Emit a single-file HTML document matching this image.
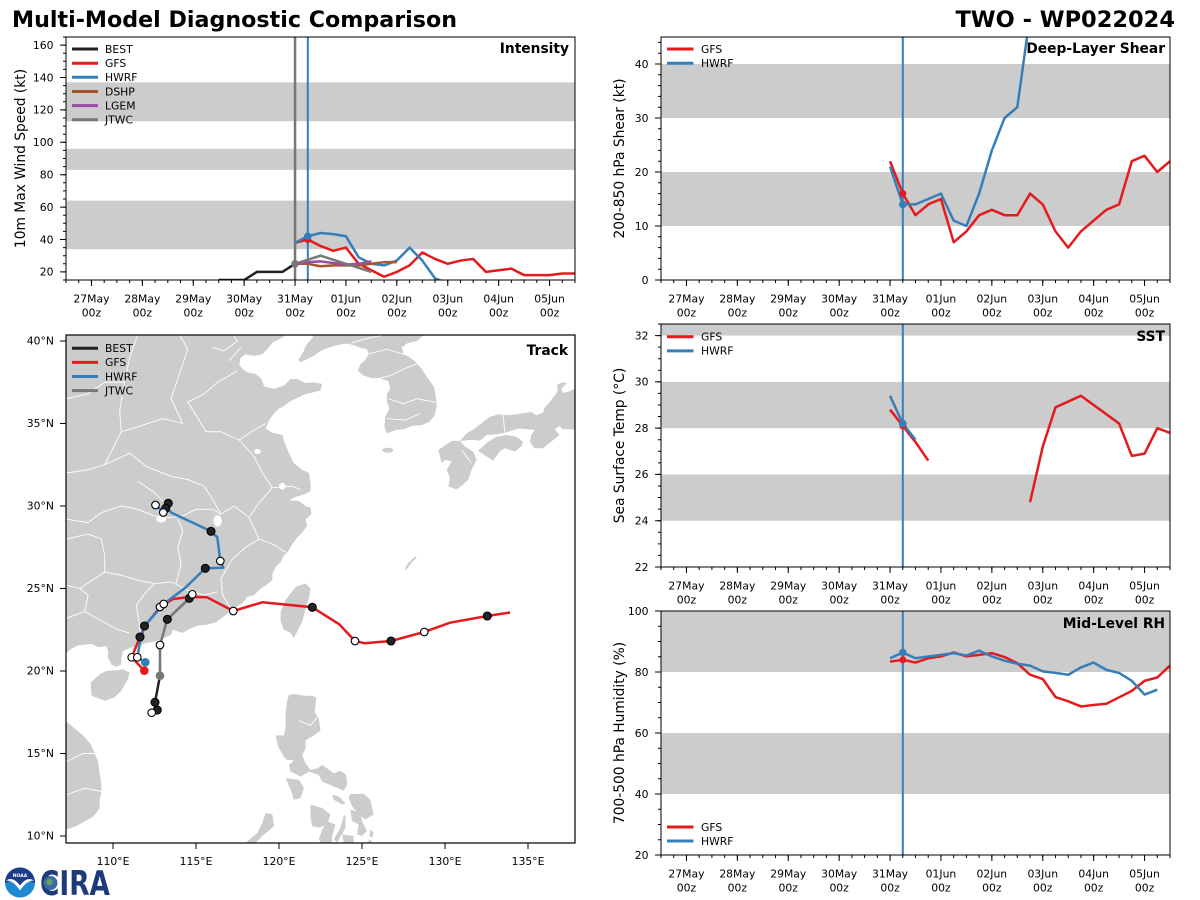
<!DOCTYPE html>
<html><head><meta charset="utf-8"><style>
html,body{margin:0;padding:0;background:#fff;}
svg{display:block;}
text{font-family:"DejaVu Sans","Liberation Sans",sans-serif;}
.tk{font-size:10.8px;fill:#000;}
.lg{font-size:10.8px;fill:#000;}
.yl{font-size:13.8px;fill:#000;}
.pt{font-size:13.8px;font-weight:bold;fill:#000;}
.ns{vector-effect:non-scaling-stroke;fill:none;stroke-linejoin:round;stroke-linecap:butt;}
</style></head><body>
<svg width="1200" height="900" viewBox="0 0 1200 900" xmlns="http://www.w3.org/2000/svg">
<rect width="1200" height="900" fill="#fff"/>
<defs>
<clipPath id="cI"><rect x="66" y="37" width="509" height="243"/></clipPath>
<clipPath id="cS"><rect x="661" y="37" width="509" height="243"/></clipPath>
<clipPath id="cT"><rect x="661" y="324" width="509" height="243"/></clipPath>
<clipPath id="cR"><rect x="661" y="611" width="509" height="244"/></clipPath>
<clipPath id="cM"><rect x="66" y="335" width="509" height="508"/></clipPath>
</defs>

<!-- Titles -->
<text x="12" y="27" font-size="22.5" font-weight="bold" textLength="445" lengthAdjust="spacingAndGlyphs">Multi-Model Diagnostic Comparison</text>
<text x="1175" y="27" font-size="22.5" font-weight="bold" text-anchor="end">TWO - WP022024</text>

<!-- ================= INTENSITY ================= -->
<g clip-path="url(#cI)">
 <g transform="matrix(50.9 0 0 -1.62 91.45 304.3)">
  <rect x="-0.5" y="34" width="10" height="30" fill="#cccccc"/>
  <rect x="-0.5" y="83" width="10" height="13" fill="#cccccc"/>
  <rect x="-0.5" y="113" width="10" height="24" fill="#cccccc"/>
 </g>
 <line x1="295.05" y1="37" x2="295.05" y2="280" stroke="#777" stroke-width="2.5"/>
 <line x1="307.8" y1="37" x2="307.8" y2="280" stroke="#377eb8" stroke-width="2"/>
 <g transform="matrix(50.9 0 0 -1.62 91.45 304.3)">
  <polyline class="ns" stroke="#222222" stroke-width="2.5" points="2.5,15 3,15 3.25,20 3.75,20 4,25"/>
  <polyline class="ns" stroke="#e41a1c" stroke-width="2.5" points="4,38 4.25,40 4.5,36 4.75,33 5,35 5.25,25 5.5,21 5.75,17 6,20 6.25,24 6.5,32 6.75,28 7,25 7.25,27 7.5,28 7.75,20 8,21 8.25,22 8.5,18 8.75,18 9,18 9.25,19 9.5,19"/>
  <polyline class="ns" stroke="#377eb8" stroke-width="2.5" points="4,38 4.25,42 4.5,44 4.75,43.3 5,42 5.25,29 5.5,25 5.75,24 6,27 6.25,35 6.5,27 6.75,16 7,13 7.25,10"/>
  <polyline class="ns" stroke="#a65628" stroke-width="2.5" points="4,25 4.25,25 4.5,23.5 4.75,24 5,24 5.25,24 5.5,25 5.75,26 6,26"/>
  <polyline class="ns" stroke="#984ea3" stroke-width="2.5" points="4,25 4.25,26 4.5,26.5 4.75,25.5 5,24.5 5.25,25 5.5,26.5"/>
  <polyline class="ns" stroke="#777777" stroke-width="2.5" points="4,25 4.5,30 5,25 5.5,20"/>
 </g>
 <circle cx="307.8" cy="239.5" r="3.5" fill="#e41a1c"/>
 <circle cx="307.8" cy="236.3" r="3.8" fill="#377eb8"/>
 <circle cx="295.05" cy="263.8" r="3.8" fill="#777777"/>
</g>
<rect x="66" y="37" width="509" height="243" fill="none" stroke="#000" stroke-width="1"/>
<g stroke="#000" fill="none">
 <line x1="65.5" y1="281.5" x2="576" y2="281.5" stroke-width="3" stroke-dasharray="1 11.725"/>
 <line x1="90.95" y1="283" x2="576" y2="283" stroke-width="6" stroke-dasharray="1 49.9"/>
 <line x1="64.5" y1="36.5" x2="64.5" y2="281" stroke-width="3" stroke-dasharray="1 7.1"/>
 <line x1="63" y1="44.6" x2="63" y2="281" stroke-width="6" stroke-dasharray="1 31.4"/>
</g>
<g class="tk" text-anchor="end">
 <text x="53.5" y="275.7">20</text><text x="53.5" y="243.3">40</text><text x="53.5" y="210.9">60</text><text x="53.5" y="178.5">80</text>
 <text x="53.5" y="146.1">100</text><text x="53.5" y="113.7">120</text><text x="53.5" y="81.3">140</text><text x="53.5" y="48.9">160</text>
</g>
<g class="tk" text-anchor="middle">
 <text x="91.45" y="302.5">27May</text><text x="142.35" y="302.5">28May</text><text x="193.25" y="302.5">29May</text><text x="244.15" y="302.5">30May</text><text x="295.05" y="302.5">31May</text><text x="345.95" y="302.5">01Jun</text><text x="396.85" y="302.5">02Jun</text><text x="447.75" y="302.5">03Jun</text><text x="498.65" y="302.5">04Jun</text><text x="549.55" y="302.5">05Jun</text>
 <text x="91.45" y="316.5">00z</text><text x="142.35" y="316.5">00z</text><text x="193.25" y="316.5">00z</text><text x="244.15" y="316.5">00z</text><text x="295.05" y="316.5">00z</text><text x="345.95" y="316.5">00z</text><text x="396.85" y="316.5">00z</text><text x="447.75" y="316.5">00z</text><text x="498.65" y="316.5">00z</text><text x="549.55" y="316.5">00z</text>
</g>
<text class="yl" transform="translate(25,158.5) rotate(-90)" text-anchor="middle">10m Max Wind Speed (kt)</text>
<text class="pt" x="569" y="53" text-anchor="end">Intensity</text>
<g stroke-width="3">
 <line x1="72" y1="49" x2="98" y2="49" stroke="#222222"/>
 <line x1="72" y1="63.2" x2="98" y2="63.2" stroke="#e41a1c"/>
 <line x1="72" y1="77.3" x2="98" y2="77.3" stroke="#377eb8"/>
 <line x1="72" y1="91.5" x2="98" y2="91.5" stroke="#a65628"/>
 <line x1="72" y1="105.6" x2="98" y2="105.6" stroke="#984ea3"/>
 <line x1="72" y1="119.8" x2="98" y2="119.8" stroke="#777777"/>
</g>
<g class="lg">
 <text x="105" y="52.8">BEST</text><text x="105" y="67">GFS</text><text x="105" y="81.1">HWRF</text>
 <text x="105" y="95.3">DSHP</text><text x="105" y="109.4">LGEM</text><text x="105" y="123.6">JTWC</text>
</g>

<!-- ================= SHEAR ================= -->
<g clip-path="url(#cS)">
 <g transform="matrix(50.9 0 0 -5.4 686.45 280)">
  <rect x="-0.5" y="10" width="10" height="10" fill="#cccccc"/>
  <rect x="-0.5" y="30" width="10" height="10" fill="#cccccc"/>
 </g>
 <line x1="902.8" y1="37" x2="902.8" y2="280" stroke="#377eb8" stroke-width="2"/>
 <g transform="matrix(50.9 0 0 -5.4 686.45 280)">
  <polyline class="ns" stroke="#e41a1c" stroke-width="2.5" points="4,22 4.25,16 4.5,12 4.75,14 5,15 5.25,7 5.5,9 5.75,12 6,13 6.25,12 6.5,12 6.75,16 7,14 7.25,9 7.5,6 7.75,9 8,11 8.25,13 8.5,14 8.75,22 9,23 9.25,20 9.5,22"/>
  <polyline class="ns" stroke="#377eb8" stroke-width="2.5" points="4,21 4.25,14 4.5,14 4.75,15 5,16 5.25,11 5.5,10 5.75,16 6,24 6.25,30 6.5,32 6.75,49 7,55"/>
 </g>
 <circle cx="902.8" cy="193.6" r="3.5" fill="#e41a1c"/>
 <circle cx="902.8" cy="204.4" r="3.8" fill="#377eb8"/>
</g>
<rect x="661" y="37" width="509" height="243" fill="none" stroke="#000" stroke-width="1"/>
<g stroke="#000" fill="none">
 <line x1="660.5" y1="281.5" x2="1171" y2="281.5" stroke-width="3" stroke-dasharray="1 11.725"/>
 <line x1="685.95" y1="283" x2="1171" y2="283" stroke-width="6" stroke-dasharray="1 49.9"/>
 <line x1="659.5" y1="41.9" x2="659.5" y2="281" stroke-width="3" stroke-dasharray="1 9.8"/>
 <line x1="658" y1="63.5" x2="658" y2="281" stroke-width="6" stroke-dasharray="1 53"/>
</g>
<g class="tk" text-anchor="end">
 <text x="648.5" y="283.8">0</text><text x="648.5" y="229.8">10</text><text x="648.5" y="175.8">20</text><text x="648.5" y="121.8">30</text><text x="648.5" y="67.8">40</text>
</g>
<g class="tk" text-anchor="middle">
 <text x="686.45" y="302.5">27May</text><text x="737.35" y="302.5">28May</text><text x="788.25" y="302.5">29May</text><text x="839.15" y="302.5">30May</text><text x="890.05" y="302.5">31May</text><text x="940.95" y="302.5">01Jun</text><text x="991.85" y="302.5">02Jun</text><text x="1042.75" y="302.5">03Jun</text><text x="1093.65" y="302.5">04Jun</text><text x="1144.55" y="302.5">05Jun</text>
 <text x="686.45" y="316.5">00z</text><text x="737.35" y="316.5">00z</text><text x="788.25" y="316.5">00z</text><text x="839.15" y="316.5">00z</text><text x="890.05" y="316.5">00z</text><text x="940.95" y="316.5">00z</text><text x="991.85" y="316.5">00z</text><text x="1042.75" y="316.5">00z</text><text x="1093.65" y="316.5">00z</text><text x="1144.55" y="316.5">00z</text>
</g>
<text class="yl" transform="translate(624,158.5) rotate(-90)" text-anchor="middle">200-850 hPa Shear (kt)</text>
<text class="pt" x="1165" y="53" text-anchor="end">Deep-Layer Shear</text>
<g stroke-width="3">
 <line x1="667" y1="49" x2="693.5" y2="49" stroke="#e41a1c"/>
 <line x1="667" y1="63.2" x2="693.5" y2="63.2" stroke="#377eb8"/>
</g>
<g class="lg"><text x="701" y="52.8">GFS</text><text x="701" y="67">HWRF</text></g>

<!-- ================= SST ================= -->
<g clip-path="url(#cT)">
 <g transform="matrix(50.9 0 0 -23.14 686.45 1076.1)">
  <rect x="-0.5" y="24" width="10" height="2" fill="#cccccc"/>
  <rect x="-0.5" y="28" width="10" height="2" fill="#cccccc"/>
  <rect x="-0.5" y="32" width="10" height="2" fill="#cccccc"/>
 </g>
 <line x1="902.8" y1="324" x2="902.8" y2="567" stroke="#377eb8" stroke-width="2"/>
 <g transform="matrix(50.9 0 0 -23.14 686.45 1076.1)">
  <polyline class="ns" stroke="#e41a1c" stroke-width="2.5" points="4,28.8 4.25,28.1 4.5,27.4 4.75,26.6"/>
  <polyline class="ns" stroke="#e41a1c" stroke-width="2.5" points="6.75,24.8 7,27.2 7.25,28.9 7.5,29.15 7.75,29.4 8,29 8.25,28.6 8.5,28.2 8.75,26.8 9,26.9 9.25,28 9.5,27.8"/>
  <polyline class="ns" stroke="#377eb8" stroke-width="2.5" points="4,29.4 4.25,28.2 4.5,27.5"/>
 </g>
 <circle cx="902.8" cy="425.9" r="3.5" fill="#e41a1c"/>
 <circle cx="902.8" cy="423.6" r="3.8" fill="#377eb8"/>
</g>
<rect x="661" y="324" width="509" height="243" fill="none" stroke="#000" stroke-width="1"/>
<g stroke="#000" fill="none">
 <line x1="660.5" y1="568.5" x2="1171" y2="568.5" stroke-width="3" stroke-dasharray="1 11.725"/>
 <line x1="685.95" y1="570" x2="1171" y2="570" stroke-width="6" stroke-dasharray="1 49.9"/>
 <line x1="659.5" y1="323.5" x2="659.5" y2="568" stroke-width="3" stroke-dasharray="1 10.57"/>
 <line x1="658" y1="335.07" x2="658" y2="568" stroke-width="6" stroke-dasharray="1 45.28"/>
</g>
<g class="tk" text-anchor="end">
 <text x="648.5" y="570.8">22</text><text x="648.5" y="524.5">24</text><text x="648.5" y="478.2">26</text><text x="648.5" y="432">28</text><text x="648.5" y="385.7">30</text><text x="648.5" y="339.4">32</text>
</g>
<g class="tk" text-anchor="middle">
 <text x="686.45" y="589.5">27May</text><text x="737.35" y="589.5">28May</text><text x="788.25" y="589.5">29May</text><text x="839.15" y="589.5">30May</text><text x="890.05" y="589.5">31May</text><text x="940.95" y="589.5">01Jun</text><text x="991.85" y="589.5">02Jun</text><text x="1042.75" y="589.5">03Jun</text><text x="1093.65" y="589.5">04Jun</text><text x="1144.55" y="589.5">05Jun</text>
 <text x="686.45" y="603.5">00z</text><text x="737.35" y="603.5">00z</text><text x="788.25" y="603.5">00z</text><text x="839.15" y="603.5">00z</text><text x="890.05" y="603.5">00z</text><text x="940.95" y="603.5">00z</text><text x="991.85" y="603.5">00z</text><text x="1042.75" y="603.5">00z</text><text x="1093.65" y="603.5">00z</text><text x="1144.55" y="603.5">00z</text>
</g>
<text class="yl" transform="translate(624,445.5) rotate(-90)" text-anchor="middle">Sea Surface Temp (°C)</text>
<text class="pt" x="1165" y="341" text-anchor="end">SST</text>
<g stroke-width="3">
 <line x1="667" y1="336.7" x2="693.5" y2="336.7" stroke="#e41a1c"/>
 <line x1="667" y1="350.9" x2="693.5" y2="350.9" stroke="#377eb8"/>
</g>
<g class="lg"><text x="701" y="340.5">GFS</text><text x="701" y="354.7">HWRF</text></g>

<!-- ================= RH ================= -->
<g clip-path="url(#cR)">
 <g transform="matrix(50.9 0 0 -3.05 686.45 916)">
  <rect x="-0.5" y="40" width="10" height="20" fill="#cccccc"/>
  <rect x="-0.5" y="80" width="10" height="20" fill="#cccccc"/>
 </g>
 <line x1="902.8" y1="611" x2="902.8" y2="855" stroke="#377eb8" stroke-width="2"/>
 <g transform="matrix(50.9 0 0 -3.05 686.45 916)">
  <polyline class="ns" stroke="#e41a1c" stroke-width="2.5" points="4,83.4 4.25,84 4.5,83.1 4.75,84.5 5,85.1 5.25,86.4 5.5,85.1 5.75,85.6 6,86.2 6.25,84.9 6.5,82.9 6.75,79.1 7,77.7 7.25,71.8 7.5,70.4 7.75,68.7 8,69.2 8.25,69.6 8.5,71.7 8.75,73.8 9,77.1 9.25,78.2 9.5,82.1"/>
  <polyline class="ns" stroke="#377eb8" stroke-width="2.5" points="4,84.5 4.25,86.4 4.5,84.5 4.75,85.1 5,85.6 5.25,86.2 5.5,85.4 5.75,87 6,85.1 6.25,83.7 6.5,82.7 6.75,82.1 7,80.2 7.25,79.7 7.5,79.1 7.75,81.5 8,83.1 8.25,80.7 8.5,79.7 8.75,77.1 9,72.6 9.25,74.2"/>
 </g>
 <circle cx="902.8" cy="659.8" r="3.5" fill="#e41a1c"/>
 <circle cx="902.8" cy="652.5" r="3.8" fill="#377eb8"/>
</g>
<rect x="661" y="611" width="509" height="244" fill="none" stroke="#000" stroke-width="1"/>
<g stroke="#000" fill="none">
 <line x1="660.5" y1="856.5" x2="1171" y2="856.5" stroke-width="3" stroke-dasharray="1 11.725"/>
 <line x1="685.95" y1="858" x2="1171" y2="858" stroke-width="6" stroke-dasharray="1 49.9"/>
 <line x1="659.5" y1="610.5" x2="659.5" y2="856" stroke-width="3" stroke-dasharray="1 14.25"/>
 <line x1="658" y1="610.5" x2="658" y2="856" stroke-width="6" stroke-dasharray="1 60"/>
</g>
<g class="tk" text-anchor="end">
 <text x="648.5" y="858.8">20</text><text x="648.5" y="797.8">40</text><text x="648.5" y="736.8">60</text><text x="648.5" y="675.8">80</text><text x="648.5" y="614.8">100</text>
</g>
<g class="tk" text-anchor="middle">
 <text x="686.45" y="877.5">27May</text><text x="737.35" y="877.5">28May</text><text x="788.25" y="877.5">29May</text><text x="839.15" y="877.5">30May</text><text x="890.05" y="877.5">31May</text><text x="940.95" y="877.5">01Jun</text><text x="991.85" y="877.5">02Jun</text><text x="1042.75" y="877.5">03Jun</text><text x="1093.65" y="877.5">04Jun</text><text x="1144.55" y="877.5">05Jun</text>
 <text x="686.45" y="891.5">00z</text><text x="737.35" y="891.5">00z</text><text x="788.25" y="891.5">00z</text><text x="839.15" y="891.5">00z</text><text x="890.05" y="891.5">00z</text><text x="940.95" y="891.5">00z</text><text x="991.85" y="891.5">00z</text><text x="1042.75" y="891.5">00z</text><text x="1093.65" y="891.5">00z</text><text x="1144.55" y="891.5">00z</text>
</g>
<text class="yl" transform="translate(624,733) rotate(-90)" text-anchor="middle">700-500 hPa Humidity (%)</text>
<text class="pt" x="1165" y="628" text-anchor="end">Mid-Level RH</text>
<g stroke-width="3">
 <line x1="667" y1="827" x2="693.5" y2="827" stroke="#e41a1c"/>
 <line x1="667" y1="841" x2="693.5" y2="841" stroke="#377eb8"/>
</g>
<g class="lg"><text x="701" y="830.8">GFS</text><text x="701" y="844.8">HWRF</text></g>

<!-- ================= TRACK MAP ================= -->
<g clip-path="url(#cM)">
 <rect x="66" y="335" width="509" height="508" fill="#fff"/>
 <g transform="matrix(16.6 0 0 -16.5 -1713 1001)" fill="#cccccc" stroke="none">
  <polygon points="100,42 121,42 121,40.9 120.5,40.4 120,40.1 119.6,39.9 119.3,39.5 119,39.2 118.5,39.1 118,39.2 117.7,39 117.6,38.6 117.8,38.3 118.1,38.1 118.6,38 118.95,37.7 119.1,37.25 119.7,37.1 120.3,37.3 120.7,37.7 121.1,37.7 121.6,37.45 122.1,37.5 122.6,37.4 122.5,37 122.1,36.9 121.5,36.75 121,36.5 120.6,36.3 120.3,36.05 120,35.9 119.7,35.6 119.4,35.2 119.2,34.7 119.6,34.45 120.2,34.3 120.35,33.8 120.6,33.2 120.9,32.6 121.4,32.2 121.8,32 121.85,31.7 121.9,31.3 121.9,30.9 121.5,30.7 121,30.55 120.6,30.35 121.2,30.3 121.6,30 121.9,29.9 121.95,29.5 121.6,29.2 121.7,28.8 121.4,28.4 121.1,28.1 120.8,27.7 120.6,27.3 120.3,27 120.1,26.6 119.8,26.3 119.6,25.9 119.6,25.5 119.2,25.2 118.8,24.9 118.5,24.6 118.1,24.5 117.8,24.1 117.3,23.8 116.9,23.5 116.6,23.25 116.2,22.95 115.6,22.8 115.1,22.75 114.6,22.55 114.2,22.3 113.9,22.4 113.6,22.5 113.5,22.2 113.1,22 112.6,21.8 112,21.7 111.5,21.5 111,21.4 110.6,21.2 110.5,20.8 110.5,20.4 110.2,20.25 109.9,20.4 109.7,20.8 109.7,21.2 109.6,21.5 109.1,21.45 108.7,21.65 108.3,21.6 107.9,21.55 107.5,21.35 107.1,21 106.7,20.7 106.3,20.2 105.9,19.7 105.7,19 106.1,18.4 106.5,17.8 107.1,17 107.6,16.6 108.2,16.1 108.7,15.5 108.9,15 109.1,14.5 109.2,13.8 109.3,13.2 109.3,12.7 109.2,12.2 109.2,11.7 109,11.4 108.7,11.1 108.3,10.9 107.8,10.6 107.2,10.4 106.8,10.3 106.6,9.9 106.3,9.5 106.2,9 100,9"/>
  <polygon points="121.8,42 122.2,40.5 122,40.2 121.6,39.7 121.5,39.4 121.3,39.05 121.15,38.85 121.3,38.72 121.7,38.9 122.1,39.1 122.5,39.4 123,39.6 123.5,39.75 124.1,39.85 124.5,39.75 124.9,39.6 125.3,39.5 125.4,39.2 125.2,38.85 124.9,38.6 124.75,38.2 125.1,37.9 125.6,37.75 126.1,37.75 126.6,37.55 126.7,37.1 126.5,36.8 126.5,36.3 126.65,35.9 126.4,35.4 126.35,34.8 126.5,34.4 127,34.6 127.5,34.65 128,34.85 128.6,34.9 129.05,35.1 129.35,35.45 129.5,36 129.45,36.6 129.35,37.2 129,37.7 128.6,38.3 128.3,38.65 127.9,39 127.5,39.2 127.4,39.6 127.7,39.85 128.3,40 128.9,40.5 129.7,40.9 130,42"/>
  <ellipse cx="126.55" cy="33.38" rx="0.33" ry="0.15"/>
  <polygon points="129.6,33.4 129.9,33.6 130.4,33.95 130.9,33.95 131.2,33.6 131.7,33.3 131.9,32.8 131.6,32.2 131.4,31.6 131.1,31.3 130.7,31 130.2,31.2 130.3,31.7 130.1,32.2 130.4,32.7 130,32.8 129.8,32.6 129.7,33"/>
  <polygon points="132,33.35 132.6,33.9 133.1,34.2 133.7,34.3 134.3,34.2 134.7,33.9 134.6,33.6 134.2,33.3 133.6,33.5 133.3,33.3 132.9,32.75 132.5,33 132.2,33.2"/>
  <polygon points="130.9,33.95 131.3,34.4 131.8,34.7 132.3,35.1 132.7,35.4 133.2,35.55 133.9,35.5 134.5,35.6 135.2,35.7 135.5,35.5 135.9,35.65 136,35.95 136.3,36.3 136.7,36.8 136.8,37.1 136.75,37.35 137.1,37.5 137.35,37.45 137,37.1 137.1,36.85 137.5,36.95 138,37.2 139,37.5 139,34 138,34.6 137.5,34.65 137.1,34.65 136.9,34.85 136.6,34.65 136.9,34.3 136.4,33.9 135.9,33.5 135.4,33.5 135.1,33.9 135.2,34.3 135.4,34.6 135,34.65 134.4,34.7 133.8,34.5 133.2,34.35 132.5,34.3 132.1,33.95 131.8,34 131.4,34 131,33.95"/>
  <polygon points="127.65,26.1 128,26.6 128.3,26.85 128.2,26.95 127.8,26.55 127.6,26.25"/>
  <polygon points="121,25.1 121.6,25.3 121.9,25 121.8,24.4 121.6,23.8 121.4,23 120.9,22 120.7,22.3 120.3,22.5 120.1,23 120.1,23.6 120.4,24.3 120.7,24.7"/>
  <polygon points="108.65,19.3 108.7,18.5 109.5,18.2 110.1,18.4 110.5,18.8 110.9,19.5 111,19.9 110.6,20.1 110.2,20.05 109.6,20 109.2,19.8"/>
  <polygon points="120.6,18.55 121,18.6 121.5,18.5 122,18.5 122.25,18.4 122.15,17.5 122.4,17.1 122.5,16.4 122.1,16.1 121.6,15.8 121.6,15.3 121.4,14.9 121.6,14.4 121.9,14 122.3,14.1 122.6,14.3 122.9,14.1 123.3,13.8 123.7,13.95 124.05,13.7 124.1,13.1 123.9,12.75 123.3,13 122.6,13.3 122.4,13.7 121.8,13.9 121.3,13.6 120.7,13.9 120.6,14.3 120.9,14.6 120.5,14.6 120.3,14.8 119.95,15.4 119.8,16.1 120.3,16.1 120.4,16.6 120.4,17.5 120.5,18.2"/>
  <polygon points="120.4,13.5 121.2,13.4 121.5,12.9 121.3,12.3 120.9,12.2 120.7,12.8"/>
  <polygon points="121.9,11.9 122.6,11.7 123.1,11.3 122.9,10.7 122.4,10.5 122,10.6 121.9,11.1"/>
  <polygon points="122.9,10.9 123.4,10.7 123.2,10 123.2,9.3 122.8,9.1 122.4,9.8 122.6,10.4"/>
  <polygon points="124,11.3 124,10.5 123.5,9.6 123.3,9.8 123.7,10.5 123.9,11.2"/>
  <polygon points="123.8,10.1 124.5,10 124.5,9.6 123.9,9.6"/>
  <polygon points="124.3,12.55 125.1,12.55 125.5,12.2 125.7,11.3 125.2,11 124.8,11.3 124.4,11.8 124.2,12.3"/>
  <polygon points="124.3,11.6 124.9,11.4 125,10.9 125.3,10.3 125,10 124.7,10.1 124.8,10.7 124.4,10.9"/>
  <polygon points="123.2,12.5 123.6,12.4 124,12 123.8,11.9 123.3,12.2"/>
  <polygon points="119.2,11.4 119.6,11.3 119.7,10.6 119,10 118.4,9.4 117.8,8.6 117.3,8.4 117.3,8.8 118,9.6 118.7,10.2 119,10.8"/>
  <polygon points="125.5,10.4 125.7,10.2 125.6,9.9 125.45,10"/>
  <polygon points="125.2,9.5 125.5,9.8 125.7,9.5 126.5,9 125,8"/>
 </g>
 <!-- lakes -->
 <g transform="matrix(16.6 0 0 -16.5 -1713 1001)" fill="#fff">
  <ellipse cx="116.3" cy="29.1" rx="0.25" ry="0.35"/>
  <ellipse cx="112.9" cy="29.2" rx="0.3" ry="0.2"/>
  <ellipse cx="120.2" cy="31.2" rx="0.2" ry="0.2"/>
  <ellipse cx="118.7" cy="33.3" rx="0.2" ry="0.15"/>
 </g>
 <!-- borders -->
 <g transform="matrix(16.6 0 0 -16.5 -1713 1001)" fill="none" stroke="#fff">
  <polyline class="ns" stroke="#fff" stroke-width="0.9" points="107.2,29.2 108.5,29 109.3,29.6 110.5,30 111.5,29.8 112.5,29.4 113.5,29.3 114.2,29.4 115,29.8 116,29.8 116.5,29.5"/>
  <polyline class="ns" stroke="#fff" stroke-width="0.9" points="109.5,32.5 111,33.2 112,32.4 113.5,31.8 114.5,31.6 115.5,31.2 116,30.4 116.5,29.5"/>
  <polyline class="ns" stroke="#fff" stroke-width="0.9" points="107.2,25.2 108,25 109.5,26 110.5,25.8 111.5,25.5 112.5,25.3 113.5,25.4 114.5,24.9 115.5,24.6 116.3,24.8"/>
  <polyline class="ns" stroke="#fff" stroke-width="0.9" points="111.7,21.7 111.6,22.8 111.4,24 112,24.8 112.5,25.3"/>
  <polyline class="ns" stroke="#fff" stroke-width="0.9" points="113.8,25.3 114.1,26.5 113.9,27.5 114.2,28.5 113.9,29.2"/>
  <polyline class="ns" stroke="#fff" stroke-width="0.9" points="117.2,23.6 116.6,24.6 116.5,25.6 117.2,26.8 118,27.5 118.8,28 119.8,27.6 120.4,27.2"/>
  <polyline class="ns" stroke="#fff" stroke-width="0.9" points="118.8,28 118.2,29.3 118.8,30.2 119.6,31.1 120.8,31.2 121.3,31"/>
  <polyline class="ns" stroke="#fff" stroke-width="0.9" points="116.5,29.5 117.3,30 118.2,29.3"/>
  <polyline class="ns" stroke="#fff" stroke-width="0.9" points="119.6,31.1 119,32 118.5,33 117.6,34 116.5,34.5 115.6,34.5 115,35.5"/>
  <polyline class="ns" stroke="#fff" stroke-width="0.9" points="117.6,34 118.5,34.6 119.2,35"/>
  <polyline class="ns" stroke="#fff" stroke-width="0.9" points="115,35.5 114.5,36.3 115.5,36.8 116.3,37.5 117.5,38.2"/>
  <polyline class="ns" stroke="#fff" stroke-width="0.9" points="110.5,34.5 110.4,35.8 110.7,37.5 111,39 111.5,40.4"/>
  <polyline class="ns" stroke="#fff" stroke-width="0.9" points="114.2,35 113.5,36.5 114,38 114.5,39.5 114,40.4"/>
  <polyline class="ns" stroke="#fff" stroke-width="0.9" points="110.5,34.5 111.5,34.8 113,35.3 114.2,35"/>
  <polyline class="ns" stroke="#fff" stroke-width="0.9" points="107.2,32 108.5,32.2 109.5,32.5 110.5,34.5"/>
  <polyline class="ns" stroke="#fff" stroke-width="0.9" points="107.2,28 108.5,28.3 109.3,28 109.5,27 109.5,26"/>
  <polyline class="ns" stroke="#fff" stroke-width="0.9" points="107.2,23.2 108.3,23.6 109.2,23.1 110.3,22.5 111.0,22.3"/>
  <polyline class="ns" stroke="#fff" stroke-width="0.9" points="108.3,23.6 108.5,24.6 108,25"/>
  <polyline class="ns" stroke="#fff" stroke-width="0.9" points="107.2,36.5 108.5,36.8 109.5,37.5 110.7,37.5"/>
  <polyline class="ns" stroke="#fff" stroke-width="0.9" points="111.5,31.5 112.5,30.8 113,30.3"/>
  <polyline class="ns" stroke="#fff" stroke-width="0.9" points="116,39.6 116.7,39.4 117.5,40 117.2,40.4"/>
  <polyline class="ns" stroke="#fff" stroke-width="0.9" points="117,38.8 117.7,39.6"/>
  <polyline class="ns" stroke="#fff" stroke-width="0.9" points="126.1,37.75 126.7,37.9 127.5,38.3 128.3,38.6"/>
  <polyline class="ns" stroke="#fff" stroke-width="0.9" points="126.6,36.5 127.5,36.2 128.3,36.5 129.4,36.3"/>
  <polyline class="ns" stroke="#fff" stroke-width="0.9" points="126.5,35.3 127.6,35.2 128.5,35.6"/>
  <polyline class="ns" stroke="#fff" stroke-width="0.9" points="125.3,39.2 126.5,39.5 127.5,39.2"/>
  <polyline class="ns" stroke="#fff" stroke-width="0.9" points="124.4,39.9 125.5,40.2 126.5,40.4"/>
  <polyline class="ns" stroke="#fff" stroke-width="0.9" points="107.2,14.5 108.2,15 108.9,15"/>
  <polyline class="ns" stroke="#fff" stroke-width="0.9" points="107.2,12.5 108.3,12.9 109.3,12.7"/>
  <polyline class="ns" stroke="#fff" stroke-width="0.9" points="121.2,17 121.9,16.7 122.3,17.2"/>
  <polyline class="ns" stroke="#fff" stroke-width="0.9" points="131,33.4 131.6,32.6"/>
  <polyline class="ns" stroke="#fff" stroke-width="0.9" points="133.5,35.5 133.6,34.5"/>
 </g>

 <!-- tracks -->
 <g fill="none" stroke-linejoin="round" stroke-width="2.5">
  <polyline stroke="#e41a1c" points="144.3,670.7 131.7,657.3 140,637 145,626 160,607 173,599 190,597 207,597.3 233.3,611 262.3,602.3 312.3,607.3 339.3,624.3 355,641 365,643.3 391,641 424.3,632 450,622.7 487.3,616 510,612.5"/>
  <polyline stroke="#377eb8" points="145.3,662.3 137.3,657.3 140.5,640 144.5,626 163.7,604 185,588 205.3,568.3 223.3,567.7 220.3,561 217.3,537.3 211,531.3 172,513 166,508 163,512 156,505"/>
  <polyline stroke="#777777" points="160,675.7 160,645 167.3,619.3 189.3,598.3 192.3,594.3"/>
  <polyline stroke="#222222" points="151.7,712.7 157.3,710 155,702.3 160,675.7"/>
 </g>
 <g stroke="#000" stroke-width="1.1">
  <circle cx="144.3" cy="670.7" r="4.3" fill="#e41a1c" stroke="none"/>
  <circle cx="145.3" cy="662.3" r="4.3" fill="#377eb8" stroke="none"/>
  <circle cx="160" cy="675.7" r="4.3" fill="#777777" stroke="none"/>
  <circle cx="131.7" cy="657.3" r="3.8" fill="#fff"/>
  <circle cx="137.3" cy="657.3" r="3.8" fill="#fff"/>
  <circle cx="140" cy="637" r="4" fill="#222"/>
  <circle cx="144.5" cy="626" r="4" fill="#222"/>
  <circle cx="160" cy="607" r="3.8" fill="#fff"/>
  <circle cx="163.7" cy="604" r="3.8" fill="#fff"/>
  <circle cx="233.3" cy="611" r="3.8" fill="#fff"/>
  <circle cx="312.3" cy="607.3" r="4" fill="#222"/>
  <circle cx="355" cy="641" r="3.8" fill="#fff"/>
  <circle cx="391" cy="641" r="4" fill="#222"/>
  <circle cx="424.3" cy="632" r="3.8" fill="#fff"/>
  <circle cx="487.3" cy="616" r="4" fill="#222"/>
  <circle cx="205.3" cy="568.3" r="4" fill="#222"/>
  <circle cx="220.3" cy="561" r="3.8" fill="#fff"/>
  <circle cx="211" cy="531.3" r="4" fill="#222"/>
  <circle cx="168.3" cy="503.3" r="4" fill="#222"/>
  <circle cx="165.7" cy="508.3" r="4" fill="#222"/>
  <circle cx="163.3" cy="512.5" r="3.8" fill="#fff"/>
  <circle cx="155.5" cy="505" r="3.8" fill="#fff"/>
  <circle cx="160" cy="645" r="3.8" fill="#fff"/>
  <circle cx="167.3" cy="619.3" r="4" fill="#222"/>
  <circle cx="189.3" cy="598.3" r="4" fill="#222"/>
  <circle cx="192.3" cy="594.3" r="3.8" fill="#fff"/>
  <circle cx="157.3" cy="710" r="4" fill="#222"/>
  <circle cx="155" cy="702.3" r="4" fill="#222"/>
  <circle cx="151.7" cy="712.7" r="3.8" fill="#fff"/>
 </g>
</g>
<rect x="66" y="335" width="509" height="508" fill="none" stroke="#000" stroke-width="1.2"/>
<g stroke="#000" stroke-width="1">
 <path d="M113,843v6M196,843v6M279,843v6M362,843v6M445,843v6M528,843v6"/>
 <path d="M60,341h6M60,423.5h6M60,506h6M60,588.5h6M60,671h6M60,753.5h6M60,836h6"/>
</g>
<g class="tk" text-anchor="middle">
 <text x="113" y="865">110°E</text><text x="196" y="865">115°E</text><text x="279" y="865">120°E</text>
 <text x="362" y="865">125°E</text><text x="445" y="865">130°E</text><text x="528" y="865">135°E</text>
</g>
<g class="tk" text-anchor="end">
 <text x="54" y="344.7">40°N</text><text x="54" y="427.2">35°N</text><text x="54" y="509.7">30°N</text>
 <text x="54" y="592.2">25°N</text><text x="54" y="674.7">20°N</text><text x="54" y="757.2">15°N</text><text x="54" y="839.7">10°N</text>
</g>
<text class="pt" x="568" y="355" text-anchor="end">Track</text>
<g stroke-width="3">
 <line x1="72" y1="348.3" x2="98" y2="348.3" stroke="#222222"/>
 <line x1="72" y1="362.4" x2="98" y2="362.4" stroke="#e41a1c"/>
 <line x1="72" y1="376.5" x2="98" y2="376.5" stroke="#377eb8"/>
 <line x1="72" y1="390.6" x2="98" y2="390.6" stroke="#777777"/>
</g>
<g class="lg">
 <text x="105" y="352.1">BEST</text><text x="105" y="366.2">GFS</text><text x="105" y="380.3">HWRF</text><text x="105" y="394.4">JTWC</text>
</g>

<!-- ================= LOGO ================= -->
<g>
 <circle cx="20" cy="882.5" r="15" fill="#1e88d2"/>
 <path d="M5,882.5 A15,15 0 0 1 35,882.5 L33,882.5 Q27,877 20,886 Q13,877 7,882.5 Z" fill="#1c3c8a"/>
 <path d="M6,880.5 Q13,876 20,885.5 Q27,876 34,880.5 Q27,880 20,890.5 Q13,880 6,880.5 Z" fill="#fff"/>
 <text x="20" y="877" font-size="4.5" fill="#fff" text-anchor="middle" font-weight="bold">NOAA</text>
 <text x="40" y="895" font-family="Liberation Serif, serif" font-weight="bold" font-size="34" fill="#1e3a78" textLength="70" lengthAdjust="spacingAndGlyphs">CIRA</text>
 <circle cx="50.5" cy="883" r="7" fill="#3c6aa5"/>
 <circle cx="49.5" cy="882" r="3.2" fill="#6c9a6a"/>
</g>
</svg>
</body></html>
